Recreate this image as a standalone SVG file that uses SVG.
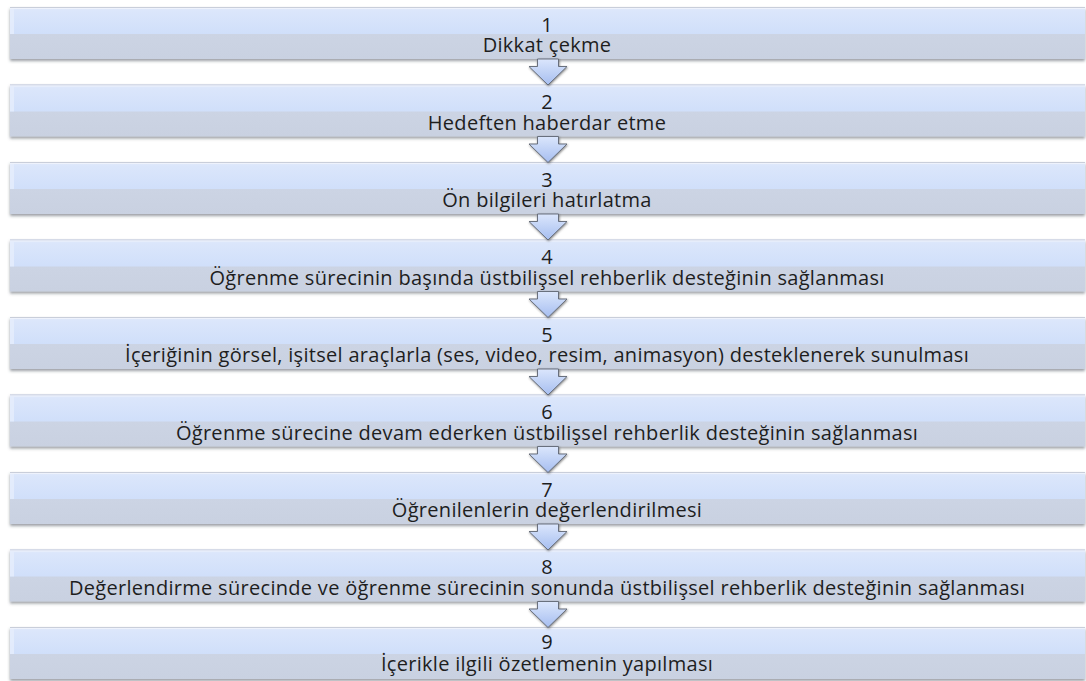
<svg xmlns="http://www.w3.org/2000/svg" width="1086" height="681" viewBox="0 0 1086 681">
  <defs>
    <linearGradient id="topHalf" x1="0" y1="0" x2="0" y2="1">
      <stop offset="0" stop-color="#e2eafb"/>
      <stop offset="0.15" stop-color="#dbe6fb"/>
      <stop offset="1" stop-color="#d0dffa"/>
    </linearGradient>
    <linearGradient id="bottomHalf" x1="0" y1="0" x2="0" y2="1">
      <stop offset="0" stop-color="#cfd7e7"/>
      <stop offset="1" stop-color="#c9d1e1"/>
    </linearGradient>
    <linearGradient id="arrowFill" x1="0" y1="0" x2="0" y2="1">
      <stop offset="0" stop-color="#dbe6fc"/>
      <stop offset="1" stop-color="#a6bef0"/>
    </linearGradient>
    <filter id="boxShadow" x="-2%" y="-20%" width="104%" height="150%">
      <feDropShadow dx="0" dy="2" stdDeviation="1.4" flood-color="#4a4f5a" flood-opacity="0.55"/>
    </filter>
    <filter id="arrowShadow" x="-30%" y="-30%" width="160%" height="160%">
      <feDropShadow dx="0.6" dy="1" stdDeviation="0.8" flood-color="#333" flood-opacity="0.6"/>
    </filter>
    <!-- one step bar: upper light band, lower greyer band -->
    <g id="bar">
      <rect x="10" y="0" width="1075" height="52" fill="url(#bottomHalf)" filter="url(#boxShadow)"/>
      <rect x="10" y="0" width="1075" height="27" fill="url(#topHalf)"/>
      <rect x="10" y="0" width="1075" height="1" fill="#c9ceda"/>
      <rect x="10" y="1" width="1075" height="1" fill="#eef2fc"/>
      <rect x="10" y="2" width="4" height="25" fill="#e6eefd" opacity="0.8"/>
    </g>
    <!-- downward block arrow between bars -->
    <path id="arrow" d="M537.5,0 L558.5,0 L558.5,7.5 L567,7.5 L548,26 L529,7.5 L537.5,7.5 Z"/>
  </defs>
  <style>
    .num, .lbl { font-family: "Open Sans", "Liberation Sans", sans-serif; font-size: 20px; letter-spacing: 0.3px; fill: #1e1e1e; text-anchor: middle; }
    .arr { fill: url(#arrowFill); stroke: #5f6572; stroke-width: 0.9; stroke-linejoin: miter; filter: url(#arrowShadow); }
  </style>

  <g id="step1" transform="translate(0,7)">
    <use href="#bar"/>
    <text class="num" x="547" y="24.5">1</text>
    <text class="lbl" x="547" y="45">Dikkat çekme</text>
  </g>
  <g id="step2" transform="translate(0,84.5)">
    <use href="#bar"/>
    <text class="num" x="547" y="24.5">2</text>
    <text class="lbl" x="547" y="45">Hedeften haberdar etme</text>
  </g>
  <g id="step3" transform="translate(0,162)">
    <use href="#bar"/>
    <text class="num" x="547" y="24.5">3</text>
    <text class="lbl" x="547" y="45">Ön bilgileri hatırlatma</text>
  </g>
  <g id="step4" transform="translate(0,239.5)">
    <use href="#bar"/>
    <text class="num" x="547" y="24.5">4</text>
    <text class="lbl" x="547" y="45">Öğrenme sürecinin başında üstbilişsel rehberlik desteğinin sağlanması</text>
  </g>
  <g id="step5" transform="translate(0,317)">
    <use href="#bar"/>
    <text class="num" x="547" y="24.5">5</text>
    <text class="lbl" x="547" y="45">İçeriğinin görsel, işitsel araçlarla (ses, video, resim, animasyon) desteklenerek sunulması</text>
  </g>
  <g id="step6" transform="translate(0,394.5)">
    <use href="#bar"/>
    <text class="num" x="547" y="24.5">6</text>
    <text class="lbl" x="547" y="45">Öğrenme sürecine devam ederken üstbilişsel rehberlik desteğinin sağlanması</text>
  </g>
  <g id="step7" transform="translate(0,472)">
    <use href="#bar"/>
    <text class="num" x="547" y="24.5">7</text>
    <text class="lbl" x="547" y="45">Öğrenilenlerin değerlendirilmesi</text>
  </g>
  <g id="step8" transform="translate(0,549.5)">
    <use href="#bar"/>
    <text class="num" x="547" y="24.5">8</text>
    <text class="lbl" x="547" y="45">Değerlendirme sürecinde ve öğrenme sürecinin sonunda üstbilişsel rehberlik desteğinin sağlanması</text>
  </g>
  <g id="step9" transform="translate(0,627)">
    <use href="#bar"/>
    <text class="num" x="547" y="21.5">9</text>
    <text class="lbl" x="547" y="43.5">İçerikle ilgili özetlemenin yapılması</text>
  </g>

  <g id="connectors">
    <use href="#arrow" class="arr" transform="translate(0,59)"/>
    <use href="#arrow" class="arr" transform="translate(0,136.5)"/>
    <use href="#arrow" class="arr" transform="translate(0,214)"/>
    <use href="#arrow" class="arr" transform="translate(0,291.5)"/>
    <use href="#arrow" class="arr" transform="translate(0,369)"/>
    <use href="#arrow" class="arr" transform="translate(0,446.5)"/>
    <use href="#arrow" class="arr" transform="translate(0,524)"/>
    <use href="#arrow" class="arr" transform="translate(0,601.5)"/>
  </g>
</svg>
